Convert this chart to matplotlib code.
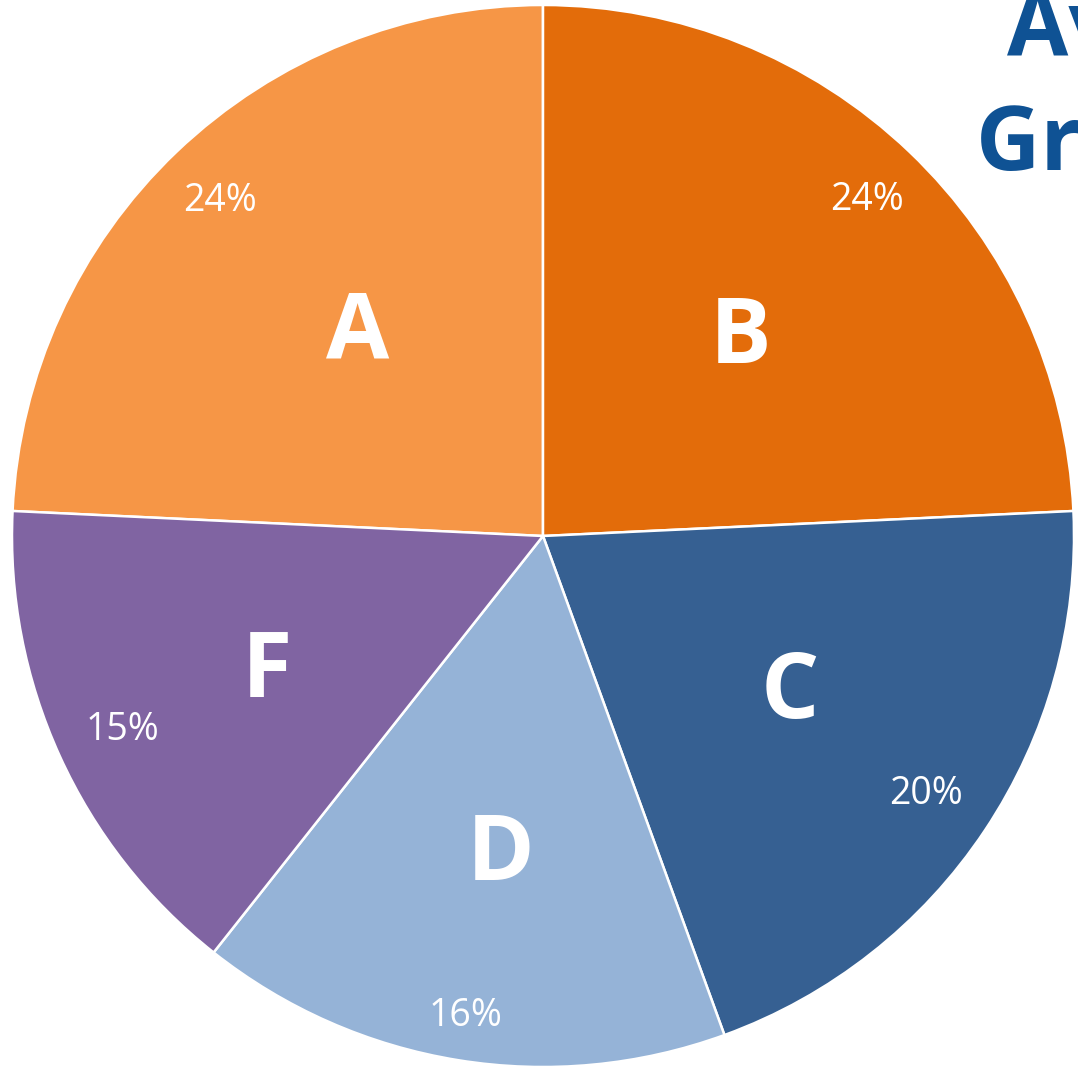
import numpy as np
import matplotlib
matplotlib.use("Agg")
import matplotlib.pyplot as plt
from matplotlib.transforms import offset_copy

categories = ["A", "B", "C", "D", "F"]
values = [24.25, 24.25, 20.2, 16.2, 15.1]
pct_labels = ["24%", "24%", "20%", "16%", "15%"]
colors = ["#F69646", "#E36C0A", "#366092", "#95B3D7", "#8064A2"]
title_lines = ["Average", "Grade Distribution"]

# label layout (fraction of radius, angle offset in degrees from wedge middle)
letter_r = [0.525, 0.535, 0.545, 0.595, 0.575]
letter_dang = [-2.0, -0.4, 2.2, 1.4, 0.7]
pct_r = [0.88, 0.883, 0.866, 0.91, 0.87]

W, H = 1078, 1069
fig = plt.figure(figsize=(W / 100, H / 100), dpi=100)
cx, cy, r = 543, 536, 531
ax = fig.add_axes([(cx - r) / W, (H - cy - r) / H, 2 * r / W, 2 * r / H])

total = sum(values)
start = 90 + 360 * values[0] / total
wedges, _ = ax.pie(values, colors=colors, startangle=start, counterclock=False,
                   radius=1, wedgeprops=dict(edgecolor="white", linewidth=1.8))
ax.set_xlim(-1, 1)
ax.set_ylim(-1, 1)
ax.set_aspect("equal")
ax.axis("off")

tr_letter = offset_copy(ax.transData, fig=fig, x=0, y=-7, units="dots")
tr_pct = offset_copy(ax.transData, fig=fig, x=0, y=-3, units="dots")

for i, (w, cat, pl) in enumerate(zip(wedges, categories, pct_labels)):
    mid_deg = (w.theta1 + w.theta2) / 2
    a = np.deg2rad(mid_deg + letter_dang[i])
    ax.text(letter_r[i] * np.cos(a), letter_r[i] * np.sin(a), cat, ha="center", va="center",
            color="white", fontsize=66, fontweight="bold", family="Open Sans",
            transform=tr_letter)
    m = np.deg2rad(mid_deg)
    ax.text(pct_r[i] * np.cos(m), pct_r[i] * np.sin(m), pl, ha="center", va="center",
            color="white", fontsize=27, family="Open Sans", transform=tr_pct)

fig.text(1007 / W, (H - 55) / H, title_lines[0], ha="left", va="baseline",
         color="#0F5294", fontsize=64, fontweight="bold", family="Open Sans")
fig.text(976 / W, (H - 170) / H, title_lines[1], ha="left", va="baseline",
         color="#0F5294", fontsize=64, fontweight="bold", family="Open Sans")

fig.savefig("out.png", dpi=100, facecolor="white")
